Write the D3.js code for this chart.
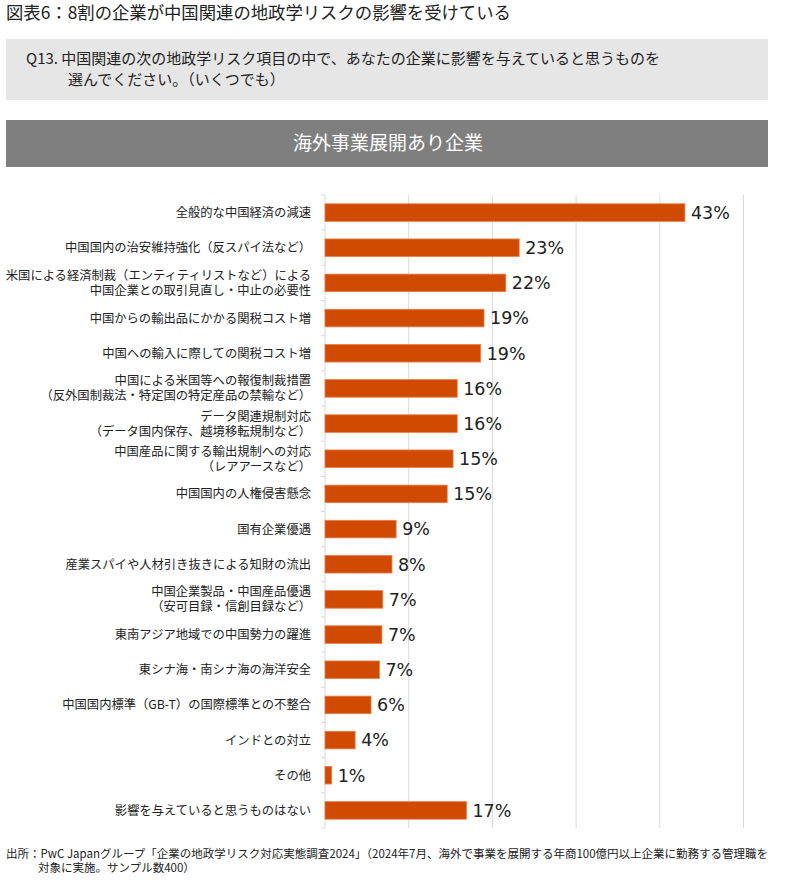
<!DOCTYPE html>
<html><head><meta charset="utf-8">
<script src="https://cdn.jsdelivr.net/npm/d3@7"></script>
<style>
html,body{margin:0;padding:0;background:#fff;}
svg{display:block;font-family:"Noto Sans CJK JP","Noto Sans",sans-serif;}
</style></head>
<body>
<svg id="c" width="795" height="880"></svg>
<script>
const title = "図表6：8割の企業が中国関連の地政学リスクの影響を受けている";
const question = ["Q13. 中国関連の次の地政学リスク項目の中で、あなたの企業に影響を与えていると思うものを", "選んでください。（いくつでも）"];
const banner = "海外事業展開あり企業";
const footer = ["出所：PwC Japanグループ「企業の地政学リスク対応実態調査2024」（2024年7月、海外で事業を展開する年商100億円以上企業に勤務する管理職を", "対象に実施。サンプル数400）"];

const categories = [
  "全般的な中国経済の減速",
  "中国国内の治安維持強化（反スパイ法など）",
  "米国による経済制裁（エンティティリストなど）による\n中国企業との取引見直し・中止の必要性",
  "中国からの輸出品にかかる関税コスト増",
  "中国への輸入に際しての関税コスト増",
  "中国による米国等への報復制裁措置\n（反外国制裁法・特定国の特定産品の禁輸など）",
  "データ関連規制対応\n（データ国内保存、越境移転規制など）",
  "中国産品に関する輸出規制への対応\n（レアアースなど）",
  "中国国内の人権侵害懸念",
  "国有企業優遇",
  "産業スパイや人材引き抜きによる知財の流出",
  "中国企業製品・中国産品優遇\n（安可目録・信創目録など）",
  "東南アジア地域での中国勢力の躍進",
  "東シナ海・南シナ海の海洋安全",
  "中国国内標準（GB-T）の国際標準との不整合",
  "インドとの対立",
  "その他",
  "影響を与えていると思うものはない"
];
const values = [43.0, 23.2, 21.6, 19.0, 18.6, 15.8, 15.8, 15.3, 14.6, 8.5, 8.0, 6.9, 6.8, 6.5, 5.5, 3.6, 0.8, 16.9];
const valueLabels = ["43%", "23%", "22%", "19%", "19%", "16%", "16%", "15%", "15%", "9%", "8%", "7%", "7%", "7%", "6%", "4%", "1%", "17%"];
const xTicks = [0, 10, 20, 30, 40, 50];

const svg = d3.select("#c");

// title
svg.append("text").attr("x", 6).attr("y", 19).attr("font-size", 17.35).attr("fill", "#222").text(title);

// question box
svg.append("rect").attr("x", 6).attr("y", 39).attr("width", 762).attr("height", 61).attr("fill", "#e6e6e6");
svg.append("text").attr("x", 26).attr("y", 64).attr("font-size", 15).attr("fill", "#222").text(question[0]);
svg.append("text").attr("x", 68).attr("y", 85).attr("font-size", 15).attr("fill", "#222").text(question[1]);

// banner
svg.append("rect").attr("x", 6).attr("y", 120).attr("width", 762).attr("height", 47).attr("fill", "#7f7f7f");
svg.append("text").attr("x", 388).attr("y", 150).attr("text-anchor", "middle").attr("font-size", 19).attr("fill", "#fff").text(banner);

// chart
const x = d3.scaleLinear().domain([0, 50]).range([325, 743.5]);
const y = d3.scaleBand().domain(categories).range([195, 828]).paddingInner(0.5).paddingOuter(0.25);

const g = svg.append("g");
g.selectAll("line.grid").data(xTicks).join("line")
  .attr("class", "grid")
  .attr("x1", d => x(d)).attr("x2", d => x(d))
  .attr("y1", 195).attr("y2", 828)
  .attr("stroke", "#d9d9d9").attr("stroke-width", 1);

// category boundary ticks
const bounds = d3.range(categories.length + 1).map(i => 195 + i * (633 / categories.length));
g.selectAll("line.tk").data(bounds).join("line")
  .attr("class", "tk")
  .attr("x1", x(0) - 4).attr("x2", x(0))
  .attr("y1", d => d).attr("y2", d => d)
  .attr("stroke", "#d9d9d9");

g.selectAll("rect.bar").data(values).join("rect")
  .attr("class", "bar")
  .attr("x", x(0))
  .attr("y", (d, i) => y(categories[i]))
  .attr("width", d => x(d) - x(0))
  .attr("height", y.bandwidth())
  .attr("fill", "#d04a02")
  .attr("stroke", "#e8804a").attr("stroke-width", 0.8);

g.selectAll("text.val").data(values).join("text")
  .attr("class", "val")
  .attr("x", d => x(d) + 6)
  .attr("y", (d, i) => y(categories[i]) + y.bandwidth() / 2)
  .attr("dy", "0.36em")
  .attr("font-family", "'DejaVu Sans', Verdana, sans-serif")
  .attr("font-size", 17.5)
  .attr("fill", "#222")
  .text((d, i) => valueLabels[i]);

const lab = g.selectAll("text.cat").data(categories).join("text")
  .attr("class", "cat")
  .attr("text-anchor", "end")
  .attr("font-size", 12.3)
  .attr("fill", "#222");
lab.each(function(d) {
  const lines = d.split("\n");
  const cy = y(d) + y.bandwidth() / 2;
  const lh = 15;
  const t = d3.select(this);
  lines.forEach((ln, k) => {
    t.append("tspan").attr("x", 311)
      .attr("y", cy + (k - (lines.length - 1) / 2) * lh)
      .attr("dy", "0.36em").text(ln);
  });
});

// footer
svg.append("text").attr("x", 6).attr("y", 858).attr("font-size", 11.5).attr("fill", "#222").text(footer[0]);
svg.append("text").attr("x", 38).attr("y", 872).attr("font-size", 11.5).attr("fill", "#222").text(footer[1]);
</script>
</body></html>
